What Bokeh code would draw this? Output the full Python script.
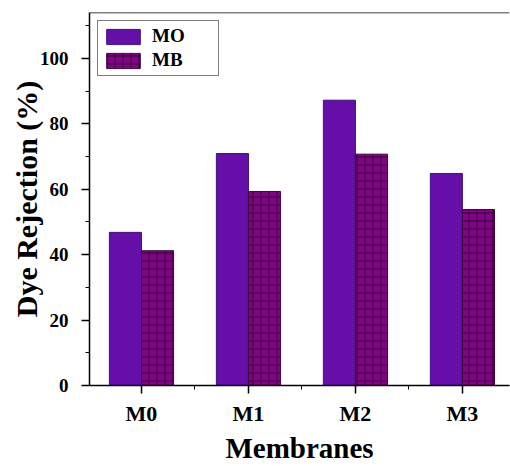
from bokeh.plotting import figure
from bokeh.models import (ColumnDataSource, FixedTicker, Range1d, Legend, LegendItem, Span)
from bokeh.embed import file_html
from bokeh.resources import INLINE
import numpy as np

# Dye rejection of each membrane for methyl orange (MO) and methylene blue (MB)
membranes = ["M0", "M1", "M2", "M3"]
mo_rejection = [46.8, 70.9, 87.2, 64.8]
mb_rejection = [41.2, 59.3, 70.7, 53.8]
y_ticks = [0, 20, 40, 60, 80, 100]

pos = np.arange(1, len(membranes) + 1)
bar_w = 0.3

src = ColumnDataSource(dict(
    x_mo=pos - bar_w / 2,
    x_mb=pos + bar_w / 2,
    mo=mo_rejection,
    mb=mb_rejection,
))

p = figure(width=510, height=466, output_backend="svg", toolbar_location=None,
           x_range=Range1d(0.514, 4.44), y_range=Range1d(0, 114),
           min_border_left=89, min_border_right=1, min_border_top=12,
           min_border_bottom=81)

p.outline_line_color = None
p.xgrid.visible = False
p.ygrid.visible = False
p.background_fill_color = "white"
p.border_fill_color = "white"

r_mo = p.vbar(x="x_mo", top="mo", width=bar_w, source=src,
              fill_color="#6C10B0", line_color="#3A1780", line_width=1,
              hatch_pattern="/", hatch_color="#4A0A8A", hatch_scale=4,
              hatch_weight=0.6, hatch_alpha=0.8)
r_mb = p.vbar(x="x_mb", top="mb", width=bar_w, source=src,
              fill_color="#820486", line_color="#3A0A3A", line_width=1,
              hatch_pattern="+", hatch_color="#2A0028", hatch_scale=8,
              hatch_weight=1.0, hatch_alpha=0.9)

# top border of the frame
p.add_layout(Span(location=114, dimension="width", line_color="black", line_width=1.5))

font = "Liberation Serif"

# x axis: numeric positions labelled with the membrane names
p.xaxis.ticker = FixedTicker(ticks=list(pos), minor_ticks=list(pos[:-1] + 0.5))
p.xaxis.major_label_overrides = {int(v): m for v, m in zip(pos, membranes)}
p.xaxis.axis_label = "Membranes"

p.yaxis.ticker = FixedTicker(ticks=y_ticks, minor_ticks=[10, 30, 50, 70, 90, 110])
p.yaxis.axis_label = "Dye Rejection (%)"

for ax in (p.xaxis, p.yaxis):
    ax.axis_line_color = "black"
    ax.axis_line_width = 1.5
    ax.major_tick_line_color = "black"
    ax.minor_tick_line_color = "black"
    ax.major_tick_line_width = 1.5
    ax.minor_tick_line_width = 1
    ax.major_tick_out = 8
    ax.major_tick_in = 0
    ax.minor_tick_out = 4
    ax.minor_tick_in = 0
    ax.major_label_text_font = font
    ax.major_label_text_font_style = "bold"
    ax.major_label_text_color = "black"
    ax.axis_label_text_font = font
    ax.axis_label_text_font_style = "bold"
    ax.axis_label_text_color = "black"

p.xaxis.major_label_text_font_size = "22px"
p.yaxis.major_label_text_font_size = "19px"
p.xaxis.major_label_standoff = 7
p.yaxis.major_label_standoff = 13
p.xaxis.axis_label_text_font_size = "29px"
p.yaxis.axis_label_text_font_size = "30px"
p.xaxis.axis_label_standoff = 3
p.yaxis.axis_label_standoff = -6

legend = Legend(items=[LegendItem(label="MO", renderers=[r_mo]),
                       LegendItem(label="MB", renderers=[r_mb])],
                location="top_left", margin=8, padding=4, spacing=2,
                glyph_width=42, glyph_height=19, label_height=19,
                label_standoff=8, label_width=62,
                label_text_font=font, label_text_font_style="bold",
                label_text_font_size="19px", label_text_color="black",
                border_line_color="black", border_line_width=1,
                background_fill_color="white", background_fill_alpha=1)
p.add_layout(legend)

open("out.html", "w").write(file_html(p, INLINE))
